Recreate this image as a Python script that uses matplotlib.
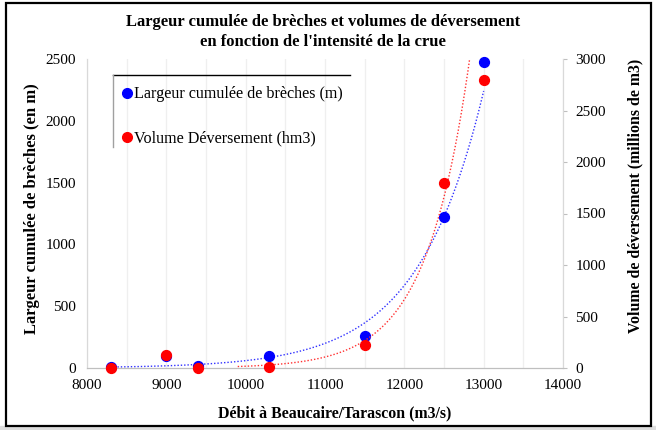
import numpy as np
import matplotlib
matplotlib.use("Agg")
import matplotlib.pyplot as plt
from matplotlib.lines import Line2D
from matplotlib.patches import Rectangle
from matplotlib.ticker import MultipleLocator

plt.rcParams['font.family'] = ['Liberation Serif', 'DejaVu Serif']

# ---- data ----
debit = [8300, 9000, 9400, 10300, 11500, 12500, 13000]
largeur_breches = [5, 100, 15, 97, 261, 1224, 2478]          # left axis (m)
volume_deversement = [3, 126, 4, 10, 223, 1793, 2796]        # right axis (hm3)

# exponential trendlines (value at reference x, growth rate)
trend_ref_x = 12500
blue_trend_ref, blue_trend_rate = 1224, 0.00121
red_trend_ref, red_trend_rate = 1660, 0.00183
blue_trend_range = (8300, 13000)
red_trend_range = (9900, 13000)

title = "Largeur cumulée de brèches et volumes de déversement\nen fonction de l'intensité de la crue"
xlabel = "Débit à Beaucaire/Tarascon (m3/s)"
ylabel_left = "Largeur cumulée de brèches (en m)"
ylabel_right = "Volume de déversement (millions de m3)"
legend_labels = ["Largeur cumulée de brèches (m)", "Volume Déversement (hm3)"]

W, H = 656, 430
fig = plt.figure(figsize=(W / 100, H / 100), dpi=100)
ax = fig.add_axes([87 / W, 1 - 368 / H, (563 - 87) / W, (368 - 59) / H])
ax2 = ax.twinx()

ax.set_xlim(8000, 14000)
ax.set_ylim(0, 2500)
ax2.set_ylim(0, 3000)

# grid
ax.xaxis.set_major_locator(MultipleLocator(1000))
ax.xaxis.set_minor_locator(MultipleLocator(500))
ax.grid(which='both', axis='x', color='#efefef', lw=0.9)
ax.yaxis.set_major_locator(MultipleLocator(500))
ax.yaxis.set_minor_locator(MultipleLocator(1000))
ax.grid(which='minor', axis='y', color='#d4d4d4', lw=1.0)
ax.set_axisbelow(True)
ax.tick_params(which='minor', length=0)
ax.tick_params(axis='both', which='major', length=0, labelsize=11, pad=8)
ax2.yaxis.set_major_locator(MultipleLocator(500))
ax2.tick_params(axis='y', length=3, color='#bfbfbf', labelsize=11, pad=6)

for a in (ax, ax2):
    a.spines['top'].set_visible(False)
    a.spines['left'].set_color('#d9d9d9')
    a.spines['right'].set_color('#d9d9d9')
    a.spines['bottom'].set_color('#bfbfbf')

# trendlines
xb = np.linspace(*blue_trend_range, 300)
ax.plot(xb, blue_trend_ref * np.exp(blue_trend_rate * (xb - trend_ref_x)),
        color='#3030ff', lw=1.0, ls=(0, (1, 1.4)), zorder=2)
xr = np.linspace(*red_trend_range, 300)
ax2.plot(xr, red_trend_ref * np.exp(red_trend_rate * (xr - trend_ref_x)),
         color='#ff3030', lw=1.0, ls=(0, (1, 1.4)), zorder=2)

# points
ax.scatter(debit, largeur_breches, s=50, color='#0000ff', zorder=3, clip_on=False)
ax2.scatter(debit, volume_deversement, s=50, color='#ff0000', zorder=3, clip_on=False)

# labels
fig.text(323 / W, 1 - 32 / H, title, ha='center', va='center', fontsize=12,
         fontweight='bold', linespacing=1.25)
fig.text(335 / W, 1 - 413 / H, xlabel, ha='center', va='center', fontsize=11.4, fontweight='bold')
fig.text(32 / W, 1 - 209 / H, ylabel_left, ha='center', va='center', rotation=90,
         fontsize=12, fontweight='bold')
fig.text(635 / W, 1 - 196 / H, ylabel_right, ha='center', va='center', rotation=90,
         fontsize=11.4, fontweight='bold')

# legend
handles = [Line2D([], [], ls='none', marker='o', ms=7, color='#0000ff'),
           Line2D([], [], ls='none', marker='o', ms=7, color='#ff0000')]
leg = ax.legend(handles, legend_labels, loc='upper left',
                bbox_to_anchor=((116 - 87) / 476, (368 - 80) / 309),
                frameon=False, fontsize=11.6, handlelength=0.6, handletextpad=0.1,
                labelspacing=1.75, borderaxespad=0)
x0, x1 = (113 - 87) / 476, (350 - 87) / 476
yt, yb = (368 - 75) / 309, (368 - 147) / 309
ax.add_line(Line2D([x0, x1], [yt, yt], transform=ax.transAxes, color='black', lw=1.0, clip_on=False))
ax.add_line(Line2D([x0, x0], [yt, yb], transform=ax.transAxes, color='#a0a0a0', lw=1.0, clip_on=False))

# figure frame
fig.patches.append(Rectangle((0, 0), 1, 4 / H, transform=fig.transFigure,
                             color='#dddddd', zorder=0))
fig.patches.append(Rectangle((5.5 / W, 1 - 426 / H), 645.5 / W, 423 / H, transform=fig.transFigure,
                             fill=False, edgecolor='black', lw=1.6, zorder=5))

fig.savefig("out.png", dpi=100)
